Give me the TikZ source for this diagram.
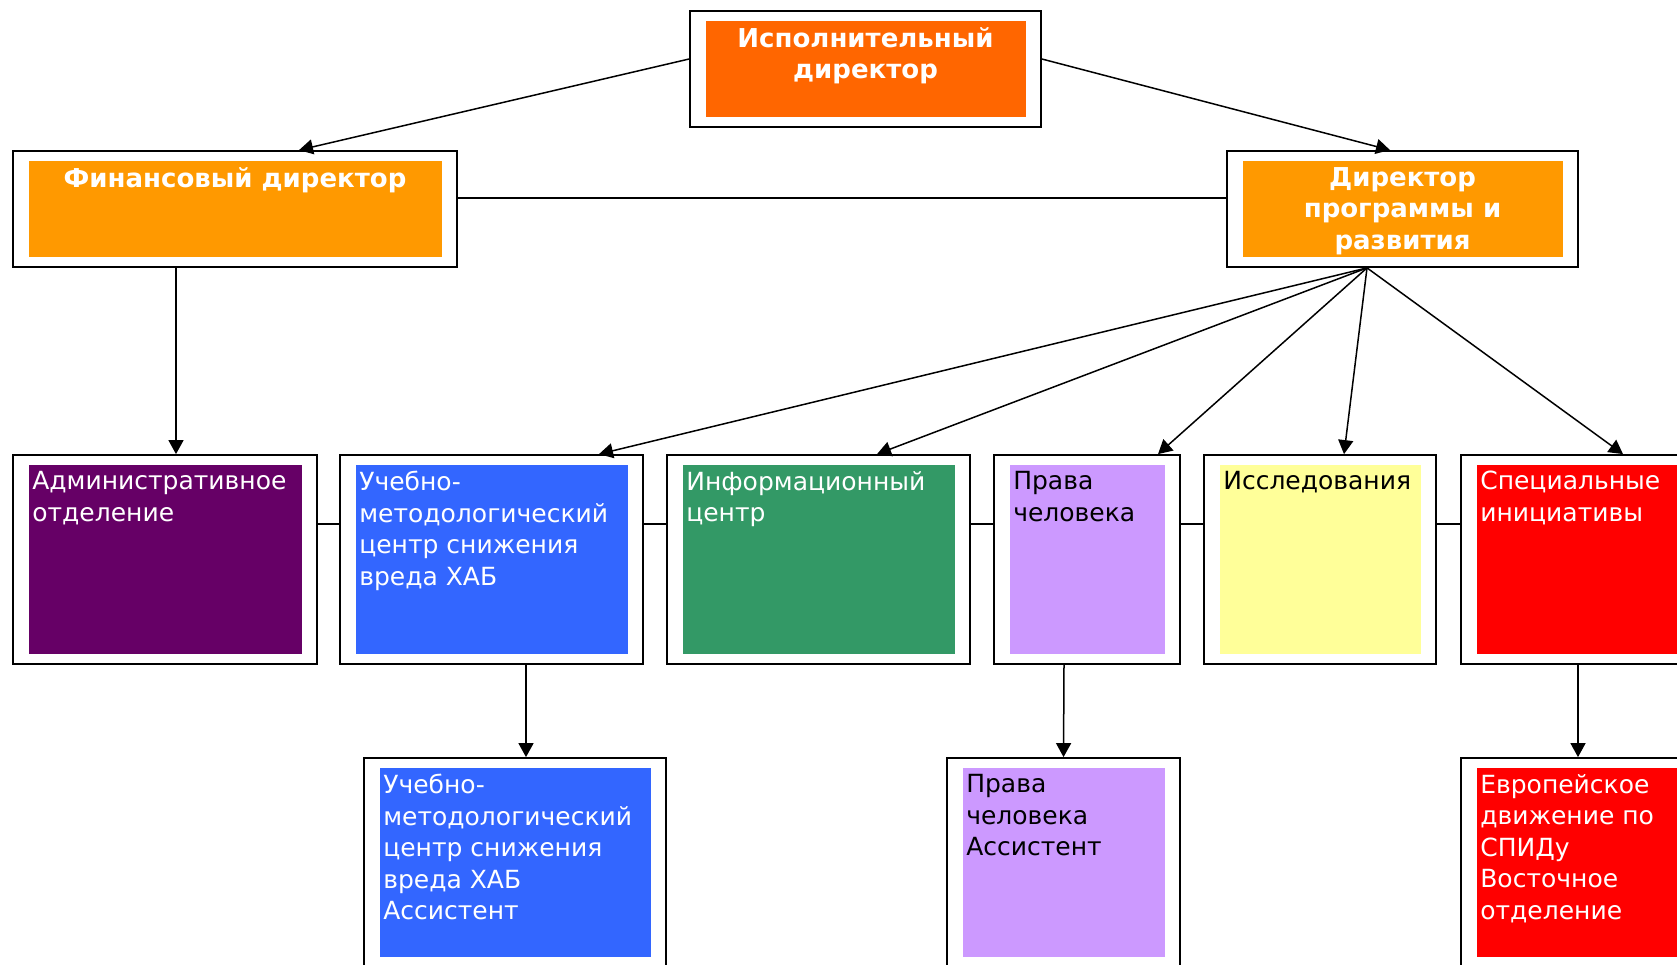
\documentclass[tikz,border=0pt]{standalone}
\usepackage{fontspec}
\setmainfont{DejaVu Sans}
\usetikzlibrary{arrows.meta, calc}
\definecolor{execorange}{HTML}{FF6600}
\definecolor{dirorange}{HTML}{FF9900}
\definecolor{admplum}{HTML}{660066}
\definecolor{hubblue}{HTML}{3366FF}
\definecolor{infogreen}{HTML}{339966}
\definecolor{rightslilac}{HTML}{CC99FF}
\definecolor{researchyellow}{HTML}{FFFF99}
\definecolor{specred}{HTML}{FF0000}

\begin{document}
\begin{tikzpicture}[x=1pt, y=-1pt,
  unit/.style={draw=black, line width=1.8pt, fill=white, inner sep=0pt,
    path picture={\fill[#1] ([shift={(15.5pt,-10pt)}]path picture bounding box.north west)
      rectangle ([shift={(-15.5pt,10pt)}]path picture bounding box.south east);}},
  ttl/.style={anchor=north, yshift=-17pt, align=center, text=white, inner sep=0pt,
    font=\bfseries\fontsize{26}{31.5}\selectfont},
  lbl/.style={anchor=north west, xshift=17pt, yshift=-14pt, align=left, inner sep=3pt,
    font=\fontsize{25}{31.5}\selectfont},
  conn/.style={line width=1.5pt},
  arr/.style={conn, -{Triangle[length=14pt, width=15pt]}}
]
  \useasboundingbox (0,0) rectangle (1677,964);
  \clip (0,0) rectangle (1677,964);

  % top level
  \node[unit=execorange, minimum width=351, minimum height=116,
    label={[ttl]north:{Исполнительный\\директор}}] (exec) at (865.5,69) {};
  \node[unit=dirorange, minimum width=444, minimum height=116,
    label={[ttl]north:{Финансовый директор}}] (fin) at (235,209) {};
  \node[unit=dirorange, minimum width=351, minimum height=116,
    label={[ttl]north:{Директор\\программы и\\развития}}] (prog) at (1402.5,209) {};

  % departments
  \node[unit=admplum, minimum width=304, minimum height=209,
    label={[lbl, text=white]north west:{Административное\\отделение}}] (adm) at (165,559.5) {};
  \node[unit=hubblue, minimum width=303, minimum height=209,
    label={[lbl, text=white]north west:{Учебно-\\методологический\\центр снижения\\вреда ХАБ}}] (umc) at (491.5,559.5) {};
  \node[unit=infogreen, minimum width=303, minimum height=209,
    label={[lbl, text=white]north west:{Информационный\\центр}}] (info) at (818.5,559.5) {};
  \node[unit=rightslilac, minimum width=186, minimum height=209,
    label={[lbl, text=black]north west:{Права\\человека}}] (prava) at (1087,559.5) {};
  \node[unit=researchyellow, minimum width=232, minimum height=209,
    label={[lbl, text=black]north west:{Исследования}}] (issl) at (1320,559.5) {};
  \node[unit=specred, minimum width=304, minimum height=209,
    label={[lbl, text=white]north west:{Специальные\\инициативы}}] (spec) at (1613,559.5) {};

  % assistants
  \node[unit=hubblue, minimum width=302, minimum height=209,
    label={[lbl, text=white]north west:{Учебно-\\методологический\\центр снижения\\вреда ХАБ\\Ассистент}}] (umca) at (515,862.5) {};
  \node[unit=rightslilac, minimum width=233, minimum height=209,
    label={[lbl, text=black]north west:{Права\\человека\\Ассистент}}] (pravaa) at (1063.5,862.5) {};
  \node[unit=specred, minimum width=304, minimum height=209,
    label={[lbl, text=white]north west:{Европейское\\движение по\\СПИДу\\Восточное\\отделение}}] (euro) at (1613,862.5) {};

  % connectors
  \draw[arr] ($(exec.west)+(0,-10)$) -- ($(fin.north)+(64,0)$);
  \draw[arr] ($(exec.east)+(0,-10)$) -- ($(prog.north)+(-12.5,0)$);
  \draw[conn] ($(fin.east)+(0,-11)$) -- ($(prog.west)+(0,-11)$);
  \draw[arr] ($(fin.south)+(-59,0)$) -- ($(adm.north)+(11,0)$);
  \draw[arr] ($(prog.south)+(-35.5,0)$) -- ($(umc.north)+(107.5,0)$);
  \draw[arr] ($(prog.south)+(-35.5,0)$) -- ($(info.north)+(58.5,0)$);
  \draw[arr] ($(prog.south)+(-35.5,0)$) -- ($(prava.north)+(71,0)$);
  \draw[arr] ($(prog.south)+(-35.5,0)$) -- ($(issl.north)+(24,0)$);
  \draw[arr] ($(prog.south)+(-35.5,0)$) -- ($(spec.north)+(10,0)$);
  \foreach \a/\b in {adm/umc, umc/info, info/prava, prava/issl, issl/spec}
    \draw[conn] ($(\a.east)+(0,-35.5)$) -- ($(\b.west)+(0,-35.5)$);
  \draw[arr] ($(umc.south)+(34.5,0)$) -- ($(umca.north)+(11,0)$);
  \draw[arr] ($(prava.south)+(-23,0)$) -- (pravaa.north);
  \draw[arr] ($(spec.south)+(-35,0)$) -- ($(euro.north)+(-35,0)$);
\end{tikzpicture}
\end{document}
